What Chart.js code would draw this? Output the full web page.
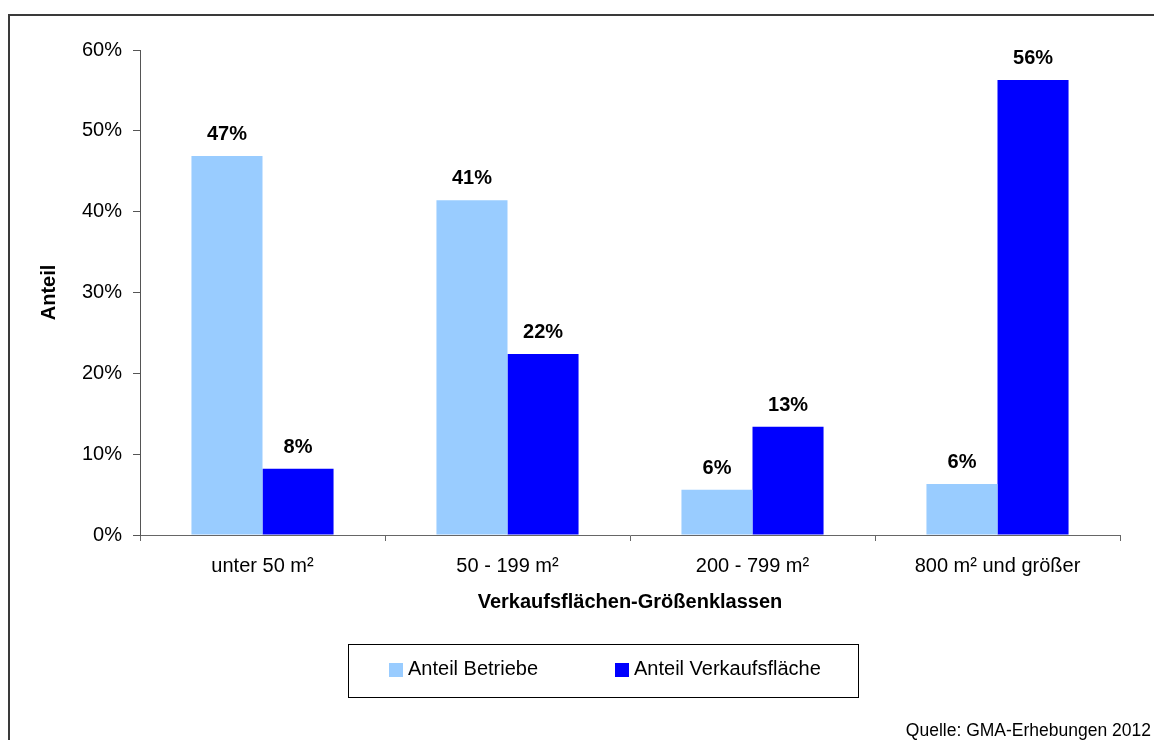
<!DOCTYPE html>
<html lang="de">
<head>
<meta charset="utf-8">
<title>Verkaufsflächen-Größenklassen</title>
<script src="https://cdn.jsdelivr.net/npm/chart.js@4.4.1/dist/chart.umd.min.js"></script>
<style>
  html, body { margin: 0; padding: 0; background: #fff; }
  canvas { display: block; }
</style>
</head>
<body>
<canvas id="chart" width="1154" height="740"></canvas>
<script>
// Data
const categories = ['unter 50 m²', '50 - 199 m²', '200 - 799 m²', '800 m² und größer'];
const anteilBetriebe = [46.9, 41.4, 5.6, 6.3];
const anteilVerkaufsflaeche = [8.2, 22.4, 13.4, 56.3];
const yTicks = [0, 10, 20, 30, 40, 50, 60];
const seriesNames = ['Anteil Betriebe', 'Anteil Verkaufsfläche'];
const seriesColors = ['#99ccff', '#0000ff'];
const xTitle = 'Verkaufsflächen-Größenklassen';
const yTitle = 'Anteil';
const sourceNote = 'Quelle: GMA-Erhebungen 2012';

const FONT = "'Liberation Sans', Arial, Helvetica, sans-serif";
Chart.defaults.font.family = FONT;
Chart.defaults.font.size = 20;
Chart.defaults.color = '#000';

// Outer frame (top and left edge)
const frame = {
  id: 'frame',
  beforeDraw(chart) {
    const ctx = chart.ctx;
    ctx.save();
    ctx.fillStyle = '#3a3a3a';
    ctx.fillRect(8, 14, 2, chart.height - 14);
    ctx.fillRect(8, 14, chart.width - 8, 2);
    ctx.restore();
  }
};

// Percent labels above every bar
const valueLabels = {
  id: 'valueLabels',
  afterDatasetsDraw(chart) {
    const ctx = chart.ctx;
    ctx.save();
    ctx.font = 'bold 20px ' + FONT;
    ctx.fillStyle = '#000';
    ctx.textAlign = 'center';
    ctx.textBaseline = 'alphabetic';
    chart.data.datasets.forEach((ds, i) => {
      chart.getDatasetMeta(i).data.forEach((bar, j) => {
        ctx.fillText(Math.round(ds.data[j]) + '%', bar.x, bar.y - 16);
      });
    });
    ctx.restore();
  }
};

// Boxed legend below the axis title, plus source note
const boxLegend = {
  id: 'boxLegend',
  afterDraw(chart) {
    const ctx = chart.ctx;
    ctx.save();
    ctx.strokeStyle = '#000';
    ctx.lineWidth = 1;
    ctx.strokeRect(348.5, 644.5, 510, 53);
    const items = [{ sx: 389, tx: 408 }, { sx: 615, tx: 634 }];
    ctx.font = '20px ' + FONT;
    ctx.textAlign = 'left';
    ctx.textBaseline = 'middle';
    chart.data.datasets.forEach((ds, i) => {
      ctx.fillStyle = ds.backgroundColor;
      ctx.fillRect(items[i].sx, 663, 14, 14);
      ctx.fillStyle = '#000';
      ctx.fillText(ds.label, items[i].tx, 669);
    });
    ctx.font = '17.5px ' + FONT;
    ctx.textAlign = 'right';
    ctx.textBaseline = 'alphabetic';
    ctx.fillText(sourceNote, 1151, 736);
    ctx.restore();
  }
};

new Chart(document.getElementById('chart'), {
  type: 'bar',
  data: {
    labels: categories,
    datasets: [
      { label: seriesNames[0], data: anteilBetriebe, backgroundColor: seriesColors[0],
        categoryPercentage: 0.58, barPercentage: 1.0 },
      { label: seriesNames[1], data: anteilVerkaufsflaeche, backgroundColor: seriesColors[1],
        categoryPercentage: 0.58, barPercentage: 1.0 }
    ]
  },
  options: {
    responsive: false,
    animation: false,
    devicePixelRatio: 1,
    layout: { padding: { top: 50, right: 34, bottom: 0, left: 0 } },
    plugins: { legend: { display: false }, tooltip: { enabled: false } },
    scales: {
      x: {
        grid: { offset: true, drawOnChartArea: false, drawTicks: true, tickLength: 6, color: '#666' },
        border: { color: '#666', width: 1 },
        ticks: { color: '#000', padding: 13, maxRotation: 0, autoSkip: false, font: { size: 20 } },
        title: { display: true, text: xTitle, color: '#000',
                 font: { size: 20, weight: 'bold' }, padding: { top: 0, bottom: 126 } },
        afterFit(scale) { scale.height = 205; }
      },
      y: {
        min: yTicks[0],
        max: yTicks[yTicks.length - 1],
        afterBuildTicks(scale) { scale.ticks = yTicks.map(v => ({ value: v })); },
        grid: { drawOnChartArea: false, drawTicks: true, tickLength: 7, color: '#555' },
        border: { color: '#555', width: 1 },
        ticks: { color: '#000', padding: 11, font: { size: 20 }, callback: v => v + '%' },
        title: { display: true, text: yTitle, color: '#000',
                 font: { size: 20, weight: 'bold' }, padding: { top: 37, bottom: 0 } },
        afterFit(scale) { scale.width = 140; }
      }
    }
  },
  plugins: [frame, valueLabels, boxLegend]
});
</script>
</body>
</html>
